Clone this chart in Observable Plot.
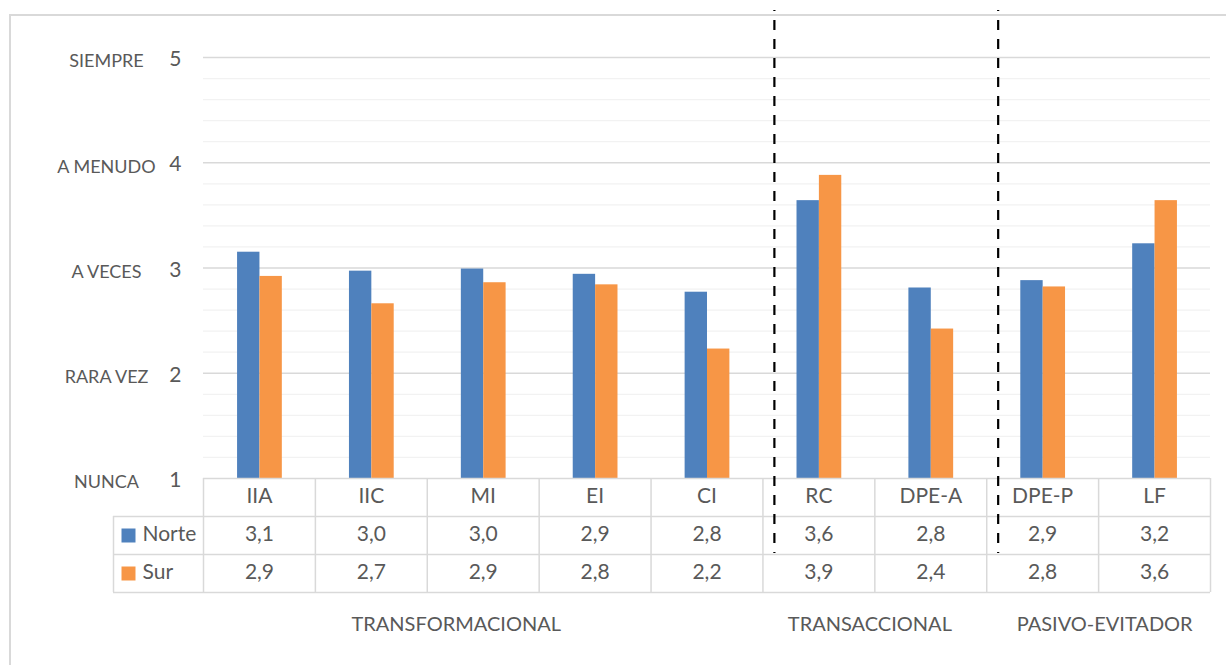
<!DOCTYPE html>
<html><head><meta charset="utf-8">
<script src="https://cdn.jsdelivr.net/npm/d3@7"></script>
<script src="https://cdn.jsdelivr.net/npm/@observablehq/plot@0.6"></script>
<style>
html,body{margin:0;padding:0;background:#fff;overflow:hidden;}
#wrap{position:relative;width:1226px;height:665px;}
#border{position:absolute;left:9px;top:14px;width:1240px;height:700px;border:2px solid #d9d9d9;box-sizing:border-box;pointer-events:none;}
#chart{position:absolute;left:0;top:0;}
</style></head><body>
<div id="wrap"><div id="border"></div><div id="chart"></div></div>
<script>
// ---- data ----
const categories = ["IIA","IIC","MI","EI","CI","RC","DPE-A","DPE-P","LF"];
const norte = [3.15,2.97,2.99,2.94,2.77,3.64,2.81,2.88,3.23];
const sur   = [2.92,2.66,2.86,2.84,2.23,3.88,2.42,2.82,3.64];
const series = ["Norte","Sur"];
const seriesColors = ["#4f81bd","#f79646"];
const levelValues = [1,2,3,4,5];
const levelNames = ["NUNCA","RARA VEZ","A VECES","A MENUDO","SIEMPRE"];
const groupNames = ["TRANSFORMACIONAL","TRANSACCIONAL","PASIVO-EVITADOR"];
const groupAnchorCats = ["MI","RC","DPE-P"];
const dividerCats = ["RC","DPE-P"];

// ---- layout ----
const W = 1226, H = 665, mL = 203, mR = 16, mT = 57, mB = 187;
const step = (W - mL - mR) / categories.length;
const barW = step / 5; // gap width 300%
const rowH = 38;
const legendW = 90;
const textShift = 5;
const groupDx = [-27, 51, 62];
const grid = "#d9d9d9", gridMinor = "#f2f2f2";
const fmt = v => d3.format(".1f")(v).replace(".", ",");
const values = [norte, sur];

const long = series.flatMap((s, k) => categories.map((c, i) => ({cat: c, series: s, value: values[k][i]})));
const minor = d3.range(6, 25).filter(k => k % 5 !== 0).map(k => k / 5);

const marks = [
  Plot.ruleY(minor, {stroke: gridMinor, strokeWidth: 1.3}),
  Plot.ruleY([2,3,4,5], {stroke: grid, strokeWidth: 1.5}),
  ...series.map((s, k) => Plot.barY(long.filter(d => d.series === s), {
    x: "cat", y1: 1, y2: "value", fill: seriesColors[k],
    insetLeft: (1.5 + k) * barW + 0.5, insetRight: step - (2.5 + k) * barW - 0.5
  })),
  // table
  Plot.ruleY([1], {stroke: grid, strokeWidth: 1.5}),
  ...[1,2,3].map(r => Plot.ruleY([1], {dy: r * rowH, insetLeft: -legendW, stroke: grid, strokeWidth: 1.5})),
  Plot.ruleX(categories, {x: d => d, dx: -step / 2, y1: 1, y2: 1, insetBottom: -3 * rowH, stroke: grid, strokeWidth: 1.5}),
  Plot.ruleX([categories[categories.length - 1]], {x: d => d, dx: step / 2, y1: 1, y2: 1, insetBottom: -3 * rowH, stroke: grid, strokeWidth: 1.5}),
  Plot.ruleX([categories[0]], {x: d => d, dx: -step / 2 - legendW, y1: 1, y2: 1, insetTop: rowH, insetBottom: -3 * rowH, stroke: grid, strokeWidth: 1.5}),
  Plot.text(categories, {x: d => d, text: d => d, frameAnchor: "bottom", dy: rowH / 2 + textShift, fontSize: 21}),
  ...series.map((s, k) => Plot.text(categories, {x: d => d, text: (d, i) => fmt(values[k][i]), frameAnchor: "bottom", dy: rowH * (k + 1.5) + textShift, fontSize: 21})),
  ...series.map((s, k) => Plot.dot([s], {frameAnchor: "bottom-left", dx: -75, dy: rowH * (k + 1.5), symbol: "square", r: 14 / Math.sqrt(Math.PI), fill: seriesColors[k]})),
  ...series.map((s, k) => Plot.text([s], {text: d => d, frameAnchor: "bottom-left", dx: -61, dy: rowH * (k + 1.5) + textShift, textAnchor: "start", fontSize: 21})),
  // y labels
  Plot.text(levelValues, {y: d => d, text: d => String(d), frameAnchor: "left", dx: -22, dy: 2, textAnchor: "end", fontSize: 21}),
  Plot.text(levelValues, {y: d => d, text: (d, i) => levelNames[i], frameAnchor: "left", dx: -97, dy: 4, textAnchor: "middle", fontSize: 18}),
  // group labels
  ...groupNames.map((g, j) => Plot.text([g], {x: () => groupAnchorCats[j], text: d => d, dx: groupDx[j], frameAnchor: "bottom", dy: 147 + textShift, fontSize: 20})),
  // dividers
  Plot.ruleX(dividerCats, {x: d => d, dx: -44.5, y1: 5, y2: 1, insetTop: -47, insetBottom: -75, stroke: "#000", strokeWidth: 2.2, strokeDasharray: "10,9", strokeDashoffset: 9})
];

const chart = Plot.plot({
  width: W, height: H,
  marginLeft: mL, marginRight: mR, marginTop: mT, marginBottom: mB,
  x: {domain: categories, padding: 0, axis: null, round: false},
  y: {domain: [1, 5], axis: null},
  style: {fontFamily: "Lato, 'Open Sans', sans-serif", fontSize: "18px", color: "#595959", background: "transparent", overflow: "visible"},
  marks
});
document.getElementById("chart").appendChild(chart);
</script>
</body></html>
